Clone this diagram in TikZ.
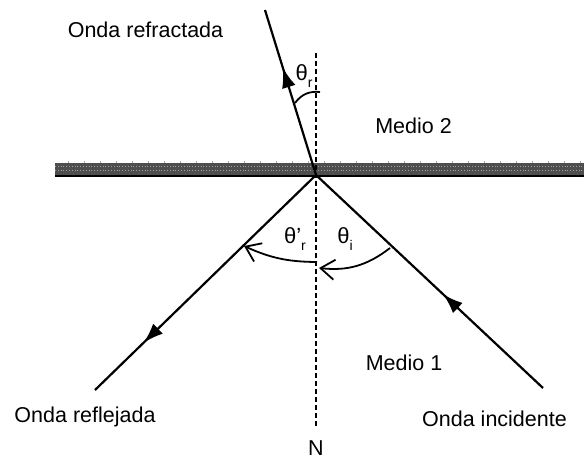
\documentclass[tikz,border=0pt]{standalone}
\usepackage{fontspec}
\setmainfont{Liberation Sans}
\usetikzlibrary{arrows.meta,decorations.markings}
\tikzset{
  ray/.style={line width=2.2pt},
  normalline/.style={line width=1.8pt, dash pattern=on 5pt off 3pt},
  anglearc/.style={line width=1.8pt},
  lbl/.style={inner sep=0pt, font=\fontsize{21.5}{24}\selectfont},
  thlbl/.style={inner sep=0pt, font=\fontsize{22}{24}\selectfont},
  midarrow/.style={postaction={decorate}, decoration={markings,
      mark=at position #1 with {\arrow[line width=2.2pt]{Latex[length=20pt,width=14pt]}}}},
}
\newcommand{\subsm}[1]{\raisebox{-0.3em}{\fontsize{14}{14}\selectfont #1}}
\begin{document}
\begin{tikzpicture}[x=1pt,y=-1pt]
\useasboundingbox (0,0) rectangle (584,460);
% surface band
\fill[fill={rgb,255:red,78;green,78;blue,78}] (55,163) rectangle (584,176);
\foreach \yy in {166.5,170} {
  \draw[gray!75, line width=0.6pt, dash pattern=on 0.8pt off 2pt] (55,\yy) -- (584,\yy);
}
\foreach \xx in {68,84,...,580} {
  \draw[gray!70, line width=0.8pt] (\xx,161) -- (\xx,163);
}
\draw[line width=2pt] (55,175.5) -- (584,175.5);
% coordinates
\coordinate (O) at (316,175);
\coordinate (I) at (543,388);
\coordinate (R) at (95,390);
\coordinate (T) at (265,10);
\coordinate (Ntop) at (316,53);
\coordinate (Nbot) at (316,428);
% normal
\draw[normalline] (Ntop) -- (Nbot);
% rays
\draw[ray, midarrow=0.44] (I) -- (O);
\draw[ray, midarrow=0.78] (O) -- (R);
\draw[ray, midarrow=0.65] (O) -- (T);
% angle arcs
\coordinate (ai1) at (390,248);
\coordinate (ai2) at (319,268);
\coordinate (ar1) at (317,262);
\coordinate (ar2) at (244,246);
\coordinate (at1) at (295,103);
\coordinate (at2) at (320,92);
\draw[anglearc, -{Straight Barb[length=14pt,width=20pt]}] (ai1) to[bend left=22] (ai2);
\draw[anglearc, -{Straight Barb[length=14pt,width=20pt]}] (ar1) to[bend left=12] (ar2);
\draw[anglearc] (at1) to[bend left=30] (at2);
% labels
\node[thlbl] (thr) at (304,76) {θ\subsm{r}};
\node[thlbl] (thrp) at (295,239) {θ'\subsm{r}};
\node[thlbl] (thi) at (345,239) {θ\subsm{i}};
\node[lbl] (refr) at (145.5,29.5) {Onda refractada};
\node[lbl] (refl) at (85,417) {Onda reflejada};
\node[lbl] (inc) at (494.5,419) {Onda incidente};
\node[lbl] (m2) at (413.5,126) {Medio 2};
\node[lbl] (m1) at (404,363) {Medio 1};
\node[lbl] (N) at (316,448.5) {N};
\end{tikzpicture}
\end{document}
